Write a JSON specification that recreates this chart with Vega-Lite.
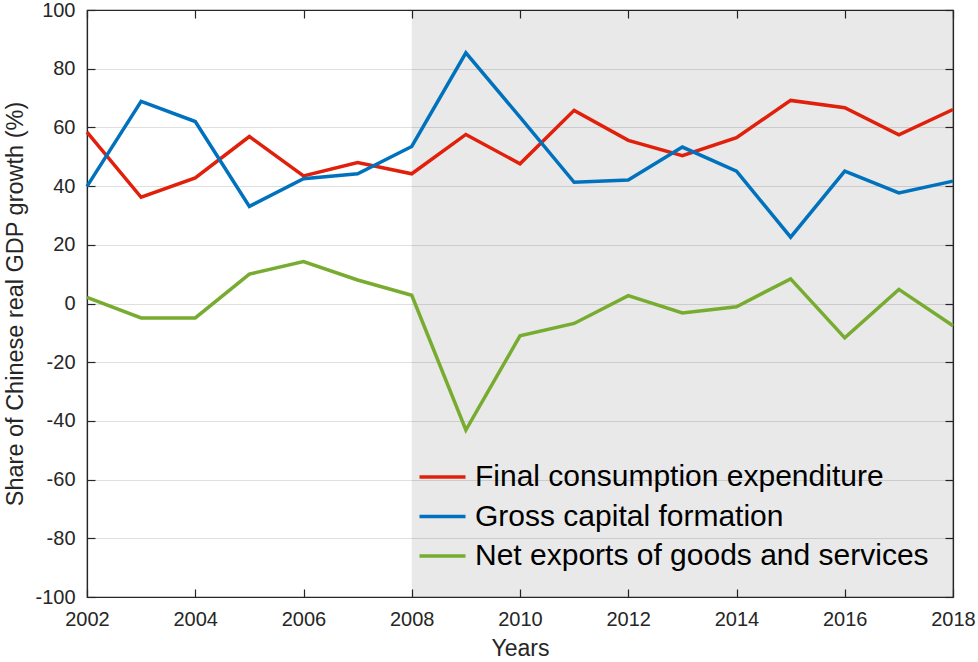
{
  "$schema": "https://vega.github.io/schema/vega-lite/v6.json",
  "width": 866,
  "height": 587,
  "autosize": {"type": "none"},
  "padding": {"left": 87, "top": 10, "right": 25, "bottom": 65},
  "background": "white",
  "config": {
    "font": "Liberation Sans",
    "view": {"stroke": "#262626", "strokeWidth": 1.2},
    "axis": {
      "labelFont": "Liberation Sans",
      "titleFont": "Liberation Sans",
      "labelFontSize": 20,
      "titleFontSize": 23.5,
      "titleFontWeight": "normal",
      "labelColor": "#262626",
      "titleColor": "#262626",
      "domainColor": "#262626",
      "tickColor": "#262626",
      "tickSize": -8,
      "domainWidth": 1.2,
      "tickWidth": 1.2,
      "labelFlush": false
    }
  },
  "datasets": {
    "period": [{"start": 2008, "end": 2018}],
    "gdp": [
      {"year": 2002, "series": "Final consumption expenditure", "value": 58.4},
      {"year": 2003, "series": "Final consumption expenditure", "value": 36.2},
      {"year": 2004, "series": "Final consumption expenditure", "value": 42.8},
      {"year": 2005, "series": "Final consumption expenditure", "value": 56.9},
      {"year": 2006, "series": "Final consumption expenditure", "value": 43.5},
      {"year": 2007, "series": "Final consumption expenditure", "value": 48.0},
      {"year": 2008, "series": "Final consumption expenditure", "value": 44.2},
      {"year": 2009, "series": "Final consumption expenditure", "value": 57.6},
      {"year": 2010, "series": "Final consumption expenditure", "value": 47.6},
      {"year": 2011, "series": "Final consumption expenditure", "value": 65.8},
      {"year": 2012, "series": "Final consumption expenditure", "value": 55.6},
      {"year": 2013, "series": "Final consumption expenditure", "value": 50.4},
      {"year": 2014, "series": "Final consumption expenditure", "value": 56.5},
      {"year": 2015, "series": "Final consumption expenditure", "value": 69.2},
      {"year": 2016, "series": "Final consumption expenditure", "value": 66.7},
      {"year": 2017, "series": "Final consumption expenditure", "value": 57.5},
      {"year": 2018, "series": "Final consumption expenditure", "value": 66.1},
      {"year": 2002, "series": "Gross capital formation", "value": 39.9},
      {"year": 2003, "series": "Gross capital formation", "value": 68.9},
      {"year": 2004, "series": "Gross capital formation", "value": 62.0},
      {"year": 2005, "series": "Gross capital formation", "value": 33.1},
      {"year": 2006, "series": "Gross capital formation", "value": 42.5},
      {"year": 2007, "series": "Gross capital formation", "value": 44.2},
      {"year": 2008, "series": "Gross capital formation", "value": 53.5},
      {"year": 2009, "series": "Gross capital formation", "value": 85.4},
      {"year": 2010, "series": "Gross capital formation", "value": 63.5},
      {"year": 2011, "series": "Gross capital formation", "value": 41.3},
      {"year": 2012, "series": "Gross capital formation", "value": 42.1},
      {"year": 2013, "series": "Gross capital formation", "value": 53.3},
      {"year": 2014, "series": "Gross capital formation", "value": 45.1},
      {"year": 2015, "series": "Gross capital formation", "value": 22.6},
      {"year": 2016, "series": "Gross capital formation", "value": 45.1},
      {"year": 2017, "series": "Gross capital formation", "value": 37.7},
      {"year": 2018, "series": "Gross capital formation", "value": 41.7},
      {"year": 2002, "series": "Net exports of goods and services", "value": 2.1},
      {"year": 2003, "series": "Net exports of goods and services", "value": -4.9},
      {"year": 2004, "series": "Net exports of goods and services", "value": -4.9},
      {"year": 2005, "series": "Net exports of goods and services", "value": 10.0},
      {"year": 2006, "series": "Net exports of goods and services", "value": 14.3},
      {"year": 2007, "series": "Net exports of goods and services", "value": 8.0},
      {"year": 2008, "series": "Net exports of goods and services", "value": 2.8},
      {"year": 2009, "series": "Net exports of goods and services", "value": -43.1},
      {"year": 2010, "series": "Net exports of goods and services", "value": -11.0},
      {"year": 2011, "series": "Net exports of goods and services", "value": -6.8},
      {"year": 2012, "series": "Net exports of goods and services", "value": 2.7},
      {"year": 2013, "series": "Net exports of goods and services", "value": -3.2},
      {"year": 2014, "series": "Net exports of goods and services", "value": -1.1},
      {"year": 2015, "series": "Net exports of goods and services", "value": 8.4},
      {"year": 2016, "series": "Net exports of goods and services", "value": -11.7},
      {"year": 2017, "series": "Net exports of goods and services", "value": 4.8},
      {"year": 2018, "series": "Net exports of goods and services", "value": -7.6}
    ]
  },
  "layer": [
    {
      "data": {"name": "period"},
      "mark": {"type": "rect", "color": "black", "opacity": 0.088},
      "encoding": {
        "x": {
          "field": "start",
          "type": "quantitative",
          "scale": {"domain": [2002, 2018], "nice": false, "zero": false},
          "axis": {"orient": "top", "labels": false, "title": null, "grid": false, "values": [2002, 2004, 2006, 2008, 2010, 2012, 2014, 2016, 2018]}
        },
        "x2": {"field": "end"}
      }
    },
    {
      "data": {"name": "gdp"},
      "mark": {"type": "line", "strokeWidth": 3.5},
      "encoding": {
        "x": {
          "field": "year",
          "type": "quantitative",
          "scale": {"domain": [2002, 2018], "nice": false, "zero": false},
          "axis": {"orient": "bottom", "title": "Years", "titleFontSize": 23, "grid": false, "format": "d", "labelPadding": 20, "titlePadding": 8, "values": [2002, 2004, 2006, 2008, 2010, 2012, 2014, 2016, 2018]}
        },
        "y": {
          "field": "value",
          "type": "quantitative",
          "scale": {"domain": [-100, 100], "nice": false},
          "axis": {
            "orient": "left",
            "title": "Share of Chinese real GDP growth (%)",
            "grid": true,
            "gridColor": "#262626",
            "gridOpacity": 0.15,
            "labelPadding": 20,
            "titlePadding": 7,
            "labelExpr": "datum.value + ''",
            "values": [-100, -80, -60, -40, -20, 0, 20, 40, 60, 80, 100]
          }
        },
        "color": {
          "field": "series",
          "type": "nominal",
          "sort": ["Final consumption expenditure", "Gross capital formation", "Net exports of goods and services"],
          "scale": {
            "domain": ["Final consumption expenditure", "Gross capital formation", "Net exports of goods and services"],
            "range": ["#e0200a", "#0072bd", "#77ac30"]
          },
          "legend": {
            "orient": "none",
            "legendX": 340.5,
            "legendY": 452,
            "title": null,
            "symbolType": "M-2,0H2",
            "symbolStrokeWidth": 3.5,
            "symbolSize": 529,
            "labelFontSize": 30,
            "labelFont": "Liberation Sans",
            "labelColor": "black",
            "labelLimit": 0,
            "labelOffset": 17.5,
            "rowPadding": 9.5
          }
        }
      }
    },
    {
      "data": {"name": "gdp"},
      "mark": {"type": "rule", "opacity": 0},
      "encoding": {
        "y": {
          "field": "value",
          "type": "quantitative",
          "scale": {"domain": [-100, 100], "nice": false},
          "axis": {"orient": "right", "labels": false, "title": null, "grid": false, "values": [-100, -80, -60, -40, -20, 0, 20, 40, 60, 80, 100]}
        }
      }
    }
  ]
}
